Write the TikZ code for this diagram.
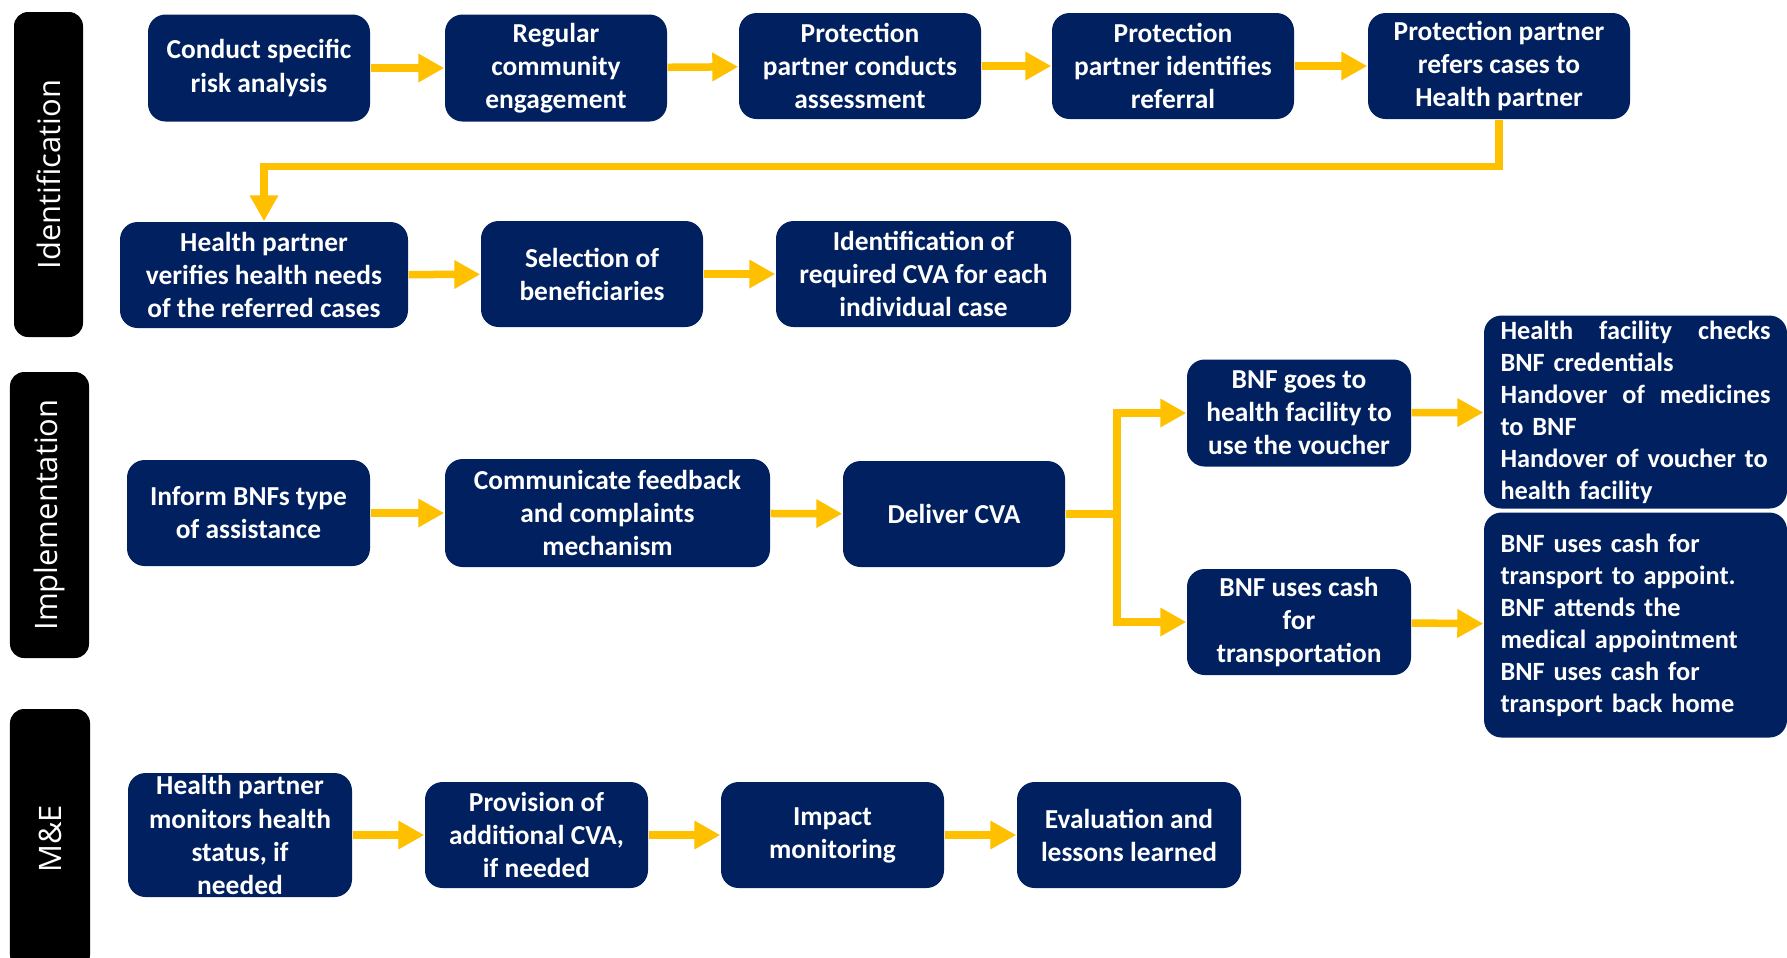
\documentclass[tikz,border=0pt]{standalone}
\usepackage{fontspec}
\setmainfont{Carlito}
\newfontfamily\phasefont{Open Sans}
\usetikzlibrary{arrows.meta,positioning}
\definecolor{pwnavy}{RGB}{0,32,96}
\definecolor{pwgold}{RGB}{255,192,0}
\tikzset{
  pwnode/.style={fill=pwnavy, rounded corners=5pt, text=white, align=center,
    minimum width=2.22cm, minimum height=1.06cm, inner sep=2pt,
    font=\fontsize{7.8}{9.4}\selectfont\bfseries},
  pwlist/.style={pwnode, align=left, text width=2.70cm, minimum width=3.03cm,
    inner ysep=0pt, font=\fontsize{7.5}{9.1}\selectfont\bfseries},
  pwphase/.style={fill=black, rounded corners=4pt, text=white, rotate=90,
    font=\fontsize{8.8}{10}\selectfont\phasefont},
  pwarrow/.style={-{Triangle[length=0.26cm,width=0.27cm]}, line width=0.075cm,
    draw=pwgold},
  pwline/.style={line width=0.075cm, draw=pwgold}
}
\begin{document}
\begin{tikzpicture}
  \useasboundingbox[fill=white] (0,0) rectangle (17.87,-9.57);
  % phases
  \node[pwphase, minimum width=3.25cm, minimum height=0.69cm] (sId) at (0.485,-1.745) {Identification};
  \node[pwphase, minimum width=2.86cm, minimum height=0.79cm] (sIm) at (0.495,-5.15) {Implementation};
  \node[pwphase, minimum width=2.60cm, minimum height=0.80cm] (sMe) at (0.50,-8.39) {M\&E};
  % identification
  \node[pwnode, minimum height=1.07cm] (iA) at (2.59,-0.68) {Conduct specific\\risk analysis};
  \node[pwnode, minimum height=1.07cm] (iB) at (5.56,-0.68) {Regular\\community\\engagement};
  \node[pwnode, minimum width=2.42cm] (iC) at (8.60,-0.66) {Protection\\partner conducts\\assessment};
  \node[pwnode, minimum width=2.42cm] (iD) at (11.73,-0.66) {Protection\\partner identifies\\referral};
  \node[pwnode, minimum width=2.62cm] (iE) at (14.99,-0.66) {Protection partner\\refers cases to\\Health partner};
  \node[pwnode, minimum width=2.88cm] (iF) at (2.64,-2.75) {Health partner\\verifies health needs\\of the referred cases};
  \node[pwnode] (iG) at (5.92,-2.74) {Selection of\\beneficiaries};
  \node[pwnode, minimum width=2.95cm] (iH) at (9.235,-2.74) {Identification of\\required CVA for each\\individual case};
  \draw[pwarrow] (iA) -- (iB);
  \draw[pwarrow] (iB) -- (iC);
  \draw[pwarrow] (iC) -- (iD);
  \draw[pwarrow] (iD) -- (iE);
  \draw[pwarrow] (iE.south) -- ++(0,-0.47) -| (iF.north);
  \draw[pwarrow] (iF) -- (iG);
  \draw[pwarrow] (iG) -- (iH);
  % implementation
  \node[pwnode, minimum width=2.43cm] (mA) at (2.485,-5.13) {Inform BNFs type\\of assistance};
  \node[pwnode, minimum width=3.25cm, minimum height=1.08cm] (mB) at (6.075,-5.13) {Communicate feedback\\and complaints\\mechanism};
  \node[pwnode] (mC) at (9.54,-5.14) {Deliver CVA};
  \node[pwnode, minimum width=2.24cm, minimum height=1.07cm] (mD) at (12.99,-4.13) {BNF goes to\\health facility to\\use the voucher};
  \node[pwnode, minimum width=2.24cm] (mE) at (12.99,-6.22) {BNF uses cash\\for\\transportation};
  \node[pwlist, minimum height=1.93cm] (mF) at (16.355,-4.12) {\makebox[\hsize][l]{Health\hfill facility\hfill checks}\\BNF credentials\\\makebox[\hsize][l]{Handover\hfill of\hfill medicines}\\to BNF\\Handover of voucher to\\health facility};
  \node[pwlist, minimum height=2.25cm] (mG) at (16.355,-6.25) {BNF uses cash for\\transport to appoint.\\BNF attends the\\medical appointment\\BNF uses cash for\\transport back home};
  \coordinate (mJ) at (11.17,-5.14);
  \draw[pwarrow] (mA) -- (mB);
  \draw[pwarrow] (mB) -- (mC);
  \draw[pwline] (mC.east) -- (mJ);
  \draw[pwarrow] (mJ) |- (mD);
  \draw[pwarrow] (mJ) |- (mE);
  \draw[pwarrow] (mD) -- (mF);
  \draw[pwarrow] (mE) -- (mG);
  % monitoring and evaluation
  \node[pwnode, minimum width=2.24cm, minimum height=1.24cm, inner ysep=0pt] (eA) at (2.40,-8.35) {Health partner\\monitors health\\status, if\\needed};
  \node[pwnode, minimum width=2.23cm] (eB) at (5.365,-8.35) {Provision of\\additional CVA,\\if needed};
  \node[pwnode, minimum width=2.23cm] (eC) at (8.325,-8.35) {Impact\\monitoring};
  \node[pwnode, minimum width=2.24cm] (eD) at (11.29,-8.35) {Evaluation and\\lessons learned};
  \draw[pwarrow] (eA) -- (eB);
  \draw[pwarrow] (eB) -- (eC);
  \draw[pwarrow] (eC) -- (eD);
\end{tikzpicture}
\end{document}
